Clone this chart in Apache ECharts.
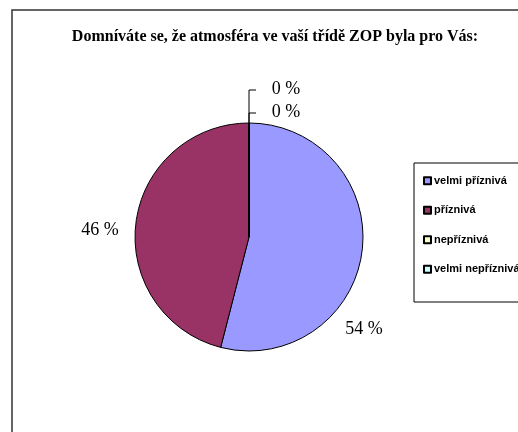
<!DOCTYPE html>
<html>
<head>
<meta charset="utf-8">
<script src="https://cdn.jsdelivr.net/npm/echarts@6/dist/echarts.min.js"></script>
<style>
  html, body { margin: 0; padding: 0; background: #fff; }
  #chart { width: 518px; height: 432px; }
</style>
</head>
<body>
<div id="chart"></div>
<script>
// kategorie odpovědí
var categories = ['velmi příznivá', 'příznivá', 'nepříznivá', 'velmi nepříznivá'];
// podíly v %
var values = [54, 46, 0, 0];
// barvy výsečí
var colors = ['#9999FF', '#993366', '#FFFFCC', '#CCFFFF'];

var chartTitle = 'Domníváte se, že atmosféra ve vaší třídě ZOP byla pro Vás:';

// střed a poloměr koláče
var cx = 249, cy = 237, r = 114;

// kam umístit popisky (podle pořadí výsečí)
var labelPos = [
  [364, 329],
  [100, 230],
  [286, 89],
  [286, 112]
];

var chart = echarts.init(document.getElementById('chart'));

var data = categories.map(function (name, i) {
  var item = { name: name, value: values[i] };
  // vodící čára jen u nulových výsečí
  item.labelLine = { show: values[i] === 0 };
  return item;
});

chart.setOption({
  backgroundColor: '#ffffff',
  animation: false,
  color: colors,
  title: {
    text: chartTitle,
    left: 270,
    top: 24,
    textAlign: 'center',
    textStyle: {
      fontFamily: 'Liberation Serif',
      fontWeight: 'bold',
      fontSize: 16,
      color: '#000'
    }
  },
  legend: {
    orient: 'vertical',
    left: 414,
    top: 163,
    padding: [12, 30, 27, 9],
    itemGap: 18,
    itemWidth: 7,
    itemHeight: 7,
    borderColor: '#000',
    borderWidth: 1,
    icon: 'rect',
    selectedMode: false,
    data: categories,
    textStyle: {
      fontFamily: 'Liberation Sans',
      fontWeight: 'bold',
      fontSize: 11,
      lineHeight: 11.5,
      color: '#000',
      padding: [0, 0, 0, -2]
    }
  },
  graphic: [{
    type: 'rect',
    shape: { x: 12, y: 10, width: 520, height: 430 },
    style: { fill: 'none', stroke: '#333', lineWidth: 1.5 },
    silent: true
  }],
  series: [{
    type: 'pie',
    center: [cx, cy],
    radius: r,
    startAngle: 90,
    clockwise: true,
    avoidLabelOverlap: false,
    itemStyle: { borderColor: '#000', borderWidth: 1 },
    label: {
      show: true,
      position: 'outside',
      fontFamily: 'Liberation Serif',
      fontSize: 18,
      color: '#000',
      formatter: function (p) { return Math.round(p.percent) + ' %'; }
    },
    labelLine: {
      show: true,
      lineStyle: { color: '#000', width: 1 }
    },
    labelLayout: function (p) {
      var pos = labelPos[p.dataIndex];
      var out = { x: pos[0], y: pos[1], align: 'center', verticalAlign: 'middle' };
      if (values[p.dataIndex] === 0) {
        out.labelLinePoints = [[cx, cy - r], [cx, pos[1] + 1], [cx + 7, pos[1] + 1]];
      }
      return out;
    },
    emphasis: { disabled: true },
    data: data
  }]
});
</script>
</body>
</html>
